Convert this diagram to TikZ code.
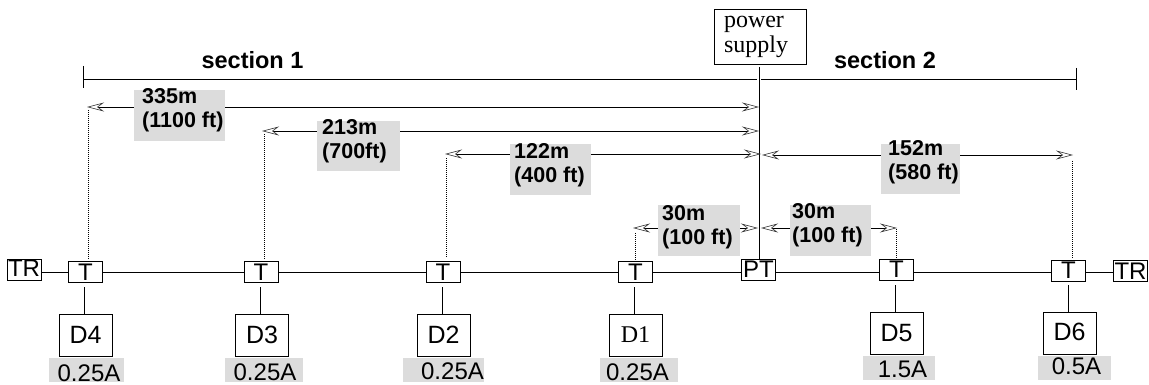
\documentclass[tikz,border=0pt]{standalone}
\usepackage{fontspec}
\setmainfont{Liberation Sans}
\newfontfamily\seriffont{Liberation Serif}
\usetikzlibrary{arrows.meta}
\definecolor{lab}{HTML}{DCDCDC}
\tikzset{
  x=1pt,y=-1pt,
  wire/.style={line width=0.8pt,black},
  dotline/.style={line width=0.8pt,black,dash pattern=on 1pt off 1pt},
  dim/.style={line width=0.8pt,black,{Stealth[open,length=17pt,width=9pt,inset=6pt,line width=0.6pt,color=black!80]}-},
  box/.style={draw=black,line width=0.8pt,fill=white,inner sep=0pt,anchor=center},
  tbox/.style={box,minimum width=34pt,minimum height=21pt,font=\fontsize{24}{24}\selectfont},
  dbox/.style={box,minimum width=53pt,minimum height=42pt,font=\fontsize{25}{25}\selectfont},
  amptext/.style={inner sep=0pt,font=\fontsize{24}{24}\selectfont},
  dtext/.style={inner sep=0pt,anchor=north west,align=left,font=\bfseries\fontsize{21.5}{24}\selectfont},
  sect/.style={inner sep=0pt,font=\bfseries\fontsize{23.5}{24}\selectfont}
}
\begin{document}
\begin{tikzpicture}
\useasboundingbox (0,0) rectangle (1149,385);
% section rulers
\coordinate (s1a) at (83,79); \coordinate (s1b) at (757,79);
\coordinate (s2a) at (761,79); \coordinate (s2b) at (1076,79);
\coordinate (t1a) at (83,66); \coordinate (t1b) at (83,88);
\coordinate (t2a) at (1076,68); \coordinate (t2b) at (1076,90);
\draw[wire] (s1a)--(s1b); \draw[wire] (s2a)--(s2b);
\draw[wire] (t1a)--(t1b); \draw[wire] (t2a)--(t2b);
\node[sect] (sec1) at (252.5,60) {section 1};
\node[sect] (sec2) at (885,60) {section 2};
% main line nodes
\coordinate (m) at (0,272);
\node[tbox] (trl) at (24,270) {\raisebox{4pt}{TR}};
\node[tbox] (t4) at (85.5,272) {T};
\node[tbox] (t3) at (261,272) {T};
\node[tbox] (t2) at (443,272) {T};
\node[tbox] (t1) at (635.5,272) {T};
\node[tbox] (pt) at (758.5,269.5) {PT};
\node[tbox] (t5) at (896.5,269.5) {T};
\node[tbox] (t6) at (1068.5,270.5) {T};
\node[tbox] (trr) at (1130.5,271) {TR};
\foreach \pa/\pb in {trl/t4,t4/t3,t3/t2,t2/t1,t1/pt,pt/t5,t5/t6,t6/trr}{
  \draw[wire] (\pa.east |- m)--(\pb.west |- m);
}
% power
\node[box,minimum height=55pt,text width=72pt,inner xsep=10pt,align=left,font=\seriffont\fontsize{24}{25}\selectfont] (ps) at (760,36.5) {power\\supply};
\coordinate (ptop) at (759,67);
\draw[wire] (ptop)--(pt.north -| ptop);
% distance label backgrounds
\fill[lab] (134,90) rectangle (225,141);
\fill[lab] (317,121) rectangle (400,171);
\fill[lab] (510,144) rectangle (591,195);
\fill[lab] (658,205) rectangle (740,256);
\fill[lab] (790,205) rectangle (871,256);
\fill[lab] (881,144) rectangle (960,194);
% dimension endpoints
\coordinate (a4) at (87,107); \coordinate (b4) at (759,107);
\coordinate (a3) at (262,131); \coordinate (b3) at (759,131);
\coordinate (a2) at (445,154); \coordinate (b2) at (761,154);
\coordinate (a1) at (633,228); \coordinate (b1) at (758,228);
\coordinate (a6) at (762,155); \coordinate (b6) at (1073,155);
\coordinate (a5) at (761,228); \coordinate (b5) at (897,228);
\draw[dim] (a4)--(134,107); \draw[dim] (b4)--(225,107);
\draw[dim] (a3)--(317,131); \draw[dim] (b3)--(400,131);
\draw[dim] (a2)--(510,154); \draw[dim] (b2)--(591,154);
\draw[dim] (a1)--(658,228); \draw[dim] (b1)--(740,228);
\draw[dim] (a5)--(790,228); \draw[dim] (b5)--(871,228);
\draw[dim] (a6)--(881,155); \draw[dim] (b6)--(960,155);
% dotted droppers
\coordinate (d4) at (88.5,110); \coordinate (e4) at (88.5,260);
\coordinate (d3) at (264.5,134); \coordinate (e3) at (264.5,259);
\coordinate (d2) at (446,158); \coordinate (e2) at (446,257);
\coordinate (d1) at (635,233); \coordinate (e1) at (635,260);
\coordinate (d5) at (896,229); \coordinate (e5) at (896,258);
\coordinate (d6) at (1072.5,161); \coordinate (e6) at (1072.5,258);
\foreach \pa/\pb in {d4/e4,d3/e3,d2/e2,d1/e1,d5/e5,d6/e6}{\draw[dotline] (\pa)--(\pb);}
% distance labels
\node[dtext] (g4) at (142,88) {335m\\(1100 ft)};
\node[dtext] (g3) at (322,119) {213m\\(700ft)};
\node[dtext] (g2) at (514,143) {122m\\(400 ft)};
\node[dtext] (g1) at (662,205) {30m\\(100 ft)};
\node[dtext] (g5) at (792,203) {30m\\(100 ft)};
\node[dtext] (g6) at (888,140) {152m\\(580 ft)};
% drops
\fill[lab] (49,358) rectangle (124,382);
\fill[lab] (225,358) rectangle (303,382);
\fill[lab] (403,358) rectangle (484,382);
\fill[lab] (600,358) rectangle (678,382);
\fill[lab] (863,356) rectangle (935,380);
\fill[lab] (1038,356) rectangle (1111,380);
\node[dbox] (D4) at (85.5,335) {D4};
\node[dbox] (D3) at (262,335) {D3};
\node[dbox] (D2) at (443.5,335) {D2};
\node[dbox,font=\seriffont\fontsize{24}{24}\selectfont] (D1) at (635.5,335) {D1};
\node[dbox] (D5) at (896.5,333.5) {D5};
\node[dbox] (D6) at (1069.5,333.5) {\raisebox{3pt}{D6}};
\coordinate (q4) at (84.5,287); \coordinate (q3) at (260.5,287);
\coordinate (q2) at (442,287); \coordinate (q1) at (634.5,287);
\coordinate (q5) at (895.5,285); \coordinate (q6) at (1068,285);
\foreach \pa/\pb in {q4/D4,q3/D3,q2/D2,q1/D1,q5/D5,q6/D6}{
  \draw[wire] (\pa)--(\pa |- \pb.north);
}
\node[amptext] (c4) at (89,373.5) {0.25A};
\node[amptext] (c3) at (265,372) {0.25A};
\node[amptext] (c2) at (452.5,371) {0.25A};
\node[amptext] (c1) at (637.5,372) {0.25A};
\node[amptext] (c5) at (902.5,369) {1.5A};
\node[amptext] (c6) at (1076.5,366) {0.5A};
\end{tikzpicture}
\end{document}
